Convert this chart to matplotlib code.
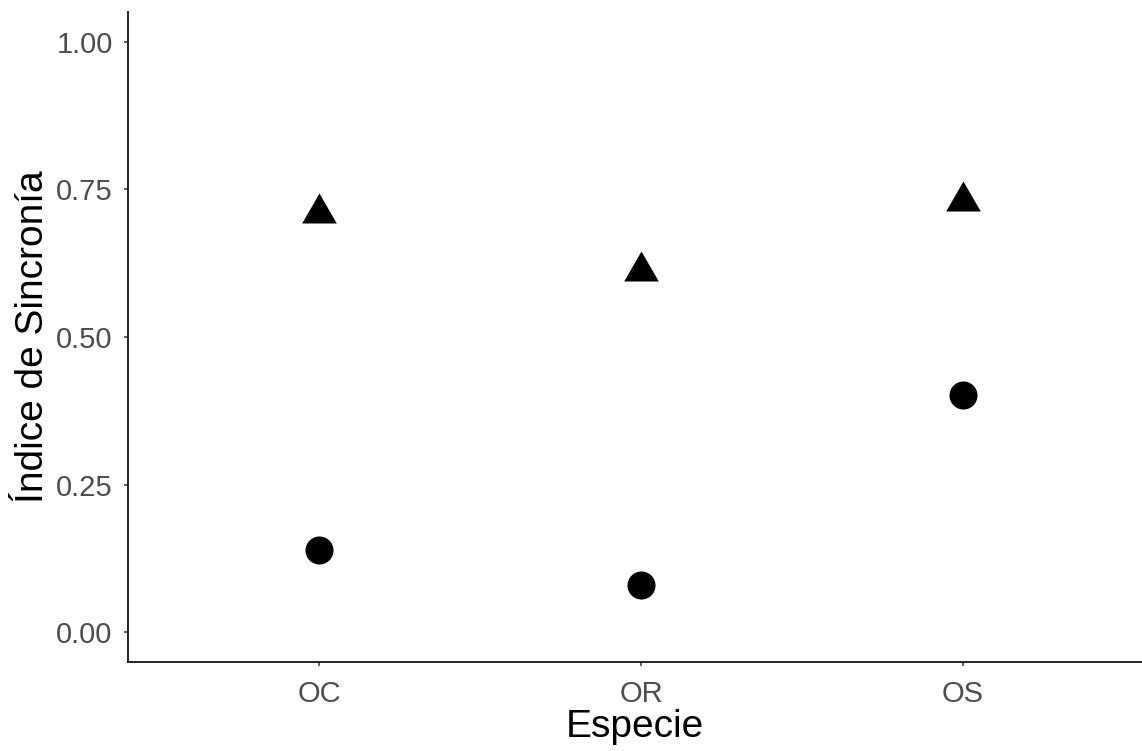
import numpy as np
import matplotlib

matplotlib.use("Agg")
import matplotlib.pyplot as plt
from matplotlib.path import Path


plt.rcParams["font.family"] = ["Liberation Sans", "DejaVu Sans"]


especies = ["OC", "OR", "OS"]
indice_triangulo = [0.710, 0.612, 0.730]
indice_circulo = [0.139, 0.080, 0.402]
y_ticks = [0.00, 0.25, 0.50, 0.75, 1.00]


# R-style triangle (pch 17): centred on the circumcentre, not the bbox
tri = Path([(0, 1), (-np.sqrt(3) / 2, -0.5), (np.sqrt(3) / 2, -0.5), (0, 1)],
           [Path.MOVETO, Path.LINETO, Path.LINETO, Path.CLOSEPOLY])

fig = plt.figure(figsize=(11.42, 7.51), dpi=100)
ax = fig.add_axes([128 / 1142, 89 / 751, 1 - 128 / 1142, 650 / 751])

x = np.arange(len(especies))
ax.plot(x, indice_circulo, linestyle="none", marker="o", markersize=20.2,
        color="black", markeredgewidth=0)
ax.plot(x, indice_triangulo, linestyle="none", marker=tri, markersize=28.8,
        color="black", markeredgewidth=0)

# the panel in the reference is cut at the right edge of the image
ax.set_xlim(-0.593, 2.556)
ax.set_ylim(-0.05, 1.05)
ax.set_xticks(x)
ax.set_xticklabels(especies)
ax.set_yticks(y_ticks)
ax.set_yticklabels([f"{v:.2f}" for v in y_ticks])

for side in ["top", "right"]:
    ax.spines[side].set_visible(False)
for side in ["left", "bottom"]:
    ax.spines[side].set_linewidth(1.4)
    ax.spines[side].set_color("#222222")

ax.tick_params(axis="both", length=3.0, width=1.1, color="#333333",
               labelsize=21, labelcolor="#4D4D4D")
ax.tick_params(axis="x", pad=10)
ax.tick_params(axis="y", pad=8)

ax.set_xlabel("Especie", fontsize=28, color="black", labelpad=1)
ax.set_ylabel("Índice de Sincronía", fontsize=28, color="black", labelpad=4)

fig.savefig("out.png", dpi=100)
